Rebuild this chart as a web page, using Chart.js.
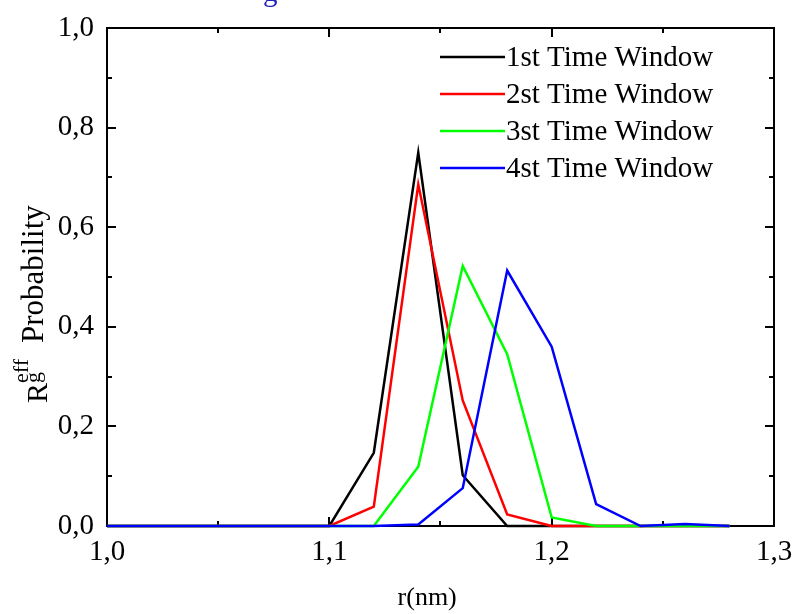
<!DOCTYPE html>
<html>
<head>
<meta charset="utf-8">
<script src="https://cdn.jsdelivr.net/npm/chart.js@4"></script>
<style>
  html, body { margin: 0; padding: 0; background: #fff; overflow: hidden; }
  #wrap { width: 793px; height: 614px; position: relative; }
  #c { display: block; }
</style>
</head>
<body>
<div id="wrap"><canvas id="c"></canvas></div>
<script>
const FONT = "'Liberation Serif', 'Times New Roman', serif";

const R_NM = [1.00, 1.02, 1.04, 1.06, 1.08, 1.10, 1.12, 1.14, 1.16, 1.18, 1.20, 1.22, 1.24, 1.26, 1.28];
const WIN1 = [0, 0, 0, 0, 0, 0, 0.147, 0.750, 0.102, 0, 0, 0, 0, 0, 0];
const WIN2 = [0, 0, 0, 0, 0, 0, 0.039, 0.686, 0.252, 0.023, 0, 0, 0, 0, 0];
const WIN3 = [0, 0, 0, 0, 0, 0, 0, 0.119, 0.522, 0.345, 0.017, 0, 0, 0, 0];
const WIN4 = [0, 0, 0, 0, 0, 0, 0, 0.003, 0.076, 0.513, 0.360, 0.044, 0, 0.004, 0];

const LABELS = ["1st Time Window", "2st Time Window", "3st Time Window", "4st Time Window"];
const COLORS = ["#000000", "#ff0000", "#00ff00", "#0000ff"];

const X_TICKS = [1.0, 1.1, 1.2, 1.3];
const X_MINOR = [1.05, 1.15, 1.25];
const Y_TICKS = [0, 0.2, 0.4, 0.6, 0.8, 1.0];
const Y_MINOR = [0.1, 0.3, 0.5, 0.7, 0.9];

const comma = (v) => v.toFixed(1).replace(".", ",");
const pts = (ys) => R_NM.map((x, i) => ({ x, y: ys[i] }));

// box frame with inward ticks on all four sides
const frame = {
  id: "frame",
  beforeDatasetsDraw(chart) {
    const { ctx, chartArea: a, scales } = chart;
    ctx.save();
    ctx.strokeStyle = "#000";
    ctx.lineWidth = 2;
    ctx.strokeRect(a.left, a.top, a.right - a.left, a.bottom - a.top);
    ctx.beginPath();
    const tx = (v, len) => {
      const p = Math.round(scales.x.getPixelForValue(v));
      ctx.moveTo(p, a.bottom); ctx.lineTo(p, a.bottom - len);
      ctx.moveTo(p, a.top); ctx.lineTo(p, a.top + len);
    };
    const ty = (v, len) => {
      const p = Math.round(scales.y.getPixelForValue(v));
      ctx.moveTo(a.left, p); ctx.lineTo(a.left + len, p);
      ctx.moveTo(a.right, p); ctx.lineTo(a.right - len, p);
    };
    X_TICKS.forEach((v) => tx(v, 9));
    X_MINOR.forEach((v) => tx(v, 5));
    Y_TICKS.forEach((v) => ty(v, 9));
    Y_MINOR.forEach((v) => ty(v, 5));
    ctx.stroke();
    ctx.restore();
  },
  afterDraw(chart) {
    const { ctx, chartArea: a } = chart;
    ctx.save();
    // legend
    ctx.font = "29px " + FONT;
    ctx.textBaseline = "middle";
    ctx.lineWidth = 2.5;
    chart.data.datasets.forEach((ds, i) => {
      const y = 57 + i * 37;
      ctx.strokeStyle = ds.borderColor;
      ctx.beginPath();
      ctx.moveTo(440, y); ctx.lineTo(505, y);
      ctx.stroke();
      ctx.fillStyle = "#000";
      ctx.fillText(ds.label, 506, y + 1);
    });
    // x axis title
    ctx.font = "26px " + FONT;
    ctx.textAlign = "center";
    ctx.fillText("r(nm)", a.left + (a.right - a.left) * 0.48, 598);
    ctx.textAlign = "left";
    // clipped title remnant at the top
    ctx.font = "29px " + FONT;
    ctx.fillStyle = "#2222bb";
    ctx.textBaseline = "alphabetic";
    ctx.fillText("g", 263, 1);
    // y axis title: R_g^eff Probability
    ctx.translate(47, 403);
    ctx.rotate(-Math.PI / 2);
    ctx.fillStyle = "#000";
    ctx.font = "30px " + FONT;
    ctx.fillText("R", 0, 0);
    ctx.font = "22px " + FONT;
    ctx.fillText("eff", 20, -19);
    ctx.fillText("g", 20, -7);
    ctx.font = "31px " + FONT;
    ctx.fillText("Probability", 60, -4);
    ctx.restore();
  },
};

Chart.defaults.font.family = FONT;
Chart.defaults.color = "#000";

new Chart(document.getElementById("c"), {
  type: "line",
  data: {
    datasets: [WIN1, WIN2, WIN3, WIN4].map((ys, i) => ({
      label: LABELS[i],
      data: pts(ys),
      borderColor: COLORS[i],
      borderWidth: 2.5,
      pointRadius: 0,
      tension: 0,
      clip: false,
      order: 3 - i,
    })),
  },
  options: {
    responsive: true,
    maintainAspectRatio: false,
    animation: false,
    layout: { autoPadding: false, padding: { top: 28, right: 19, left: 0, bottom: 0 } },
    plugins: { legend: { display: false }, tooltip: { enabled: false } },
    scales: {
      x: {
        type: "linear",
        min: 1.0,
        max: 1.3,
        afterBuildTicks: (s) => { s.ticks = X_TICKS.map((value) => ({ value })); },
        afterFit: (s) => { s.height = 88; s.paddingLeft = 0; s.paddingRight = 0; },
        grid: { display: false, drawTicks: false },
        border: { display: false },
        ticks: { font: { size: 29 }, padding: 9, callback: (v) => comma(v), maxRotation: 0 },
      },
      y: {
        min: 0,
        max: 1,
        afterBuildTicks: (s) => { s.ticks = Y_TICKS.map((value) => ({ value })); },
        afterFit: (s) => { s.width = 107; s.paddingTop = 0; s.paddingBottom = 0; },
        grid: { display: false, drawTicks: false },
        border: { display: false },
        ticks: { font: { size: 29 }, padding: 13, callback: (v) => comma(v) },
      },
    },
  },
  plugins: [frame],
});
</script>
</body>
</html>
